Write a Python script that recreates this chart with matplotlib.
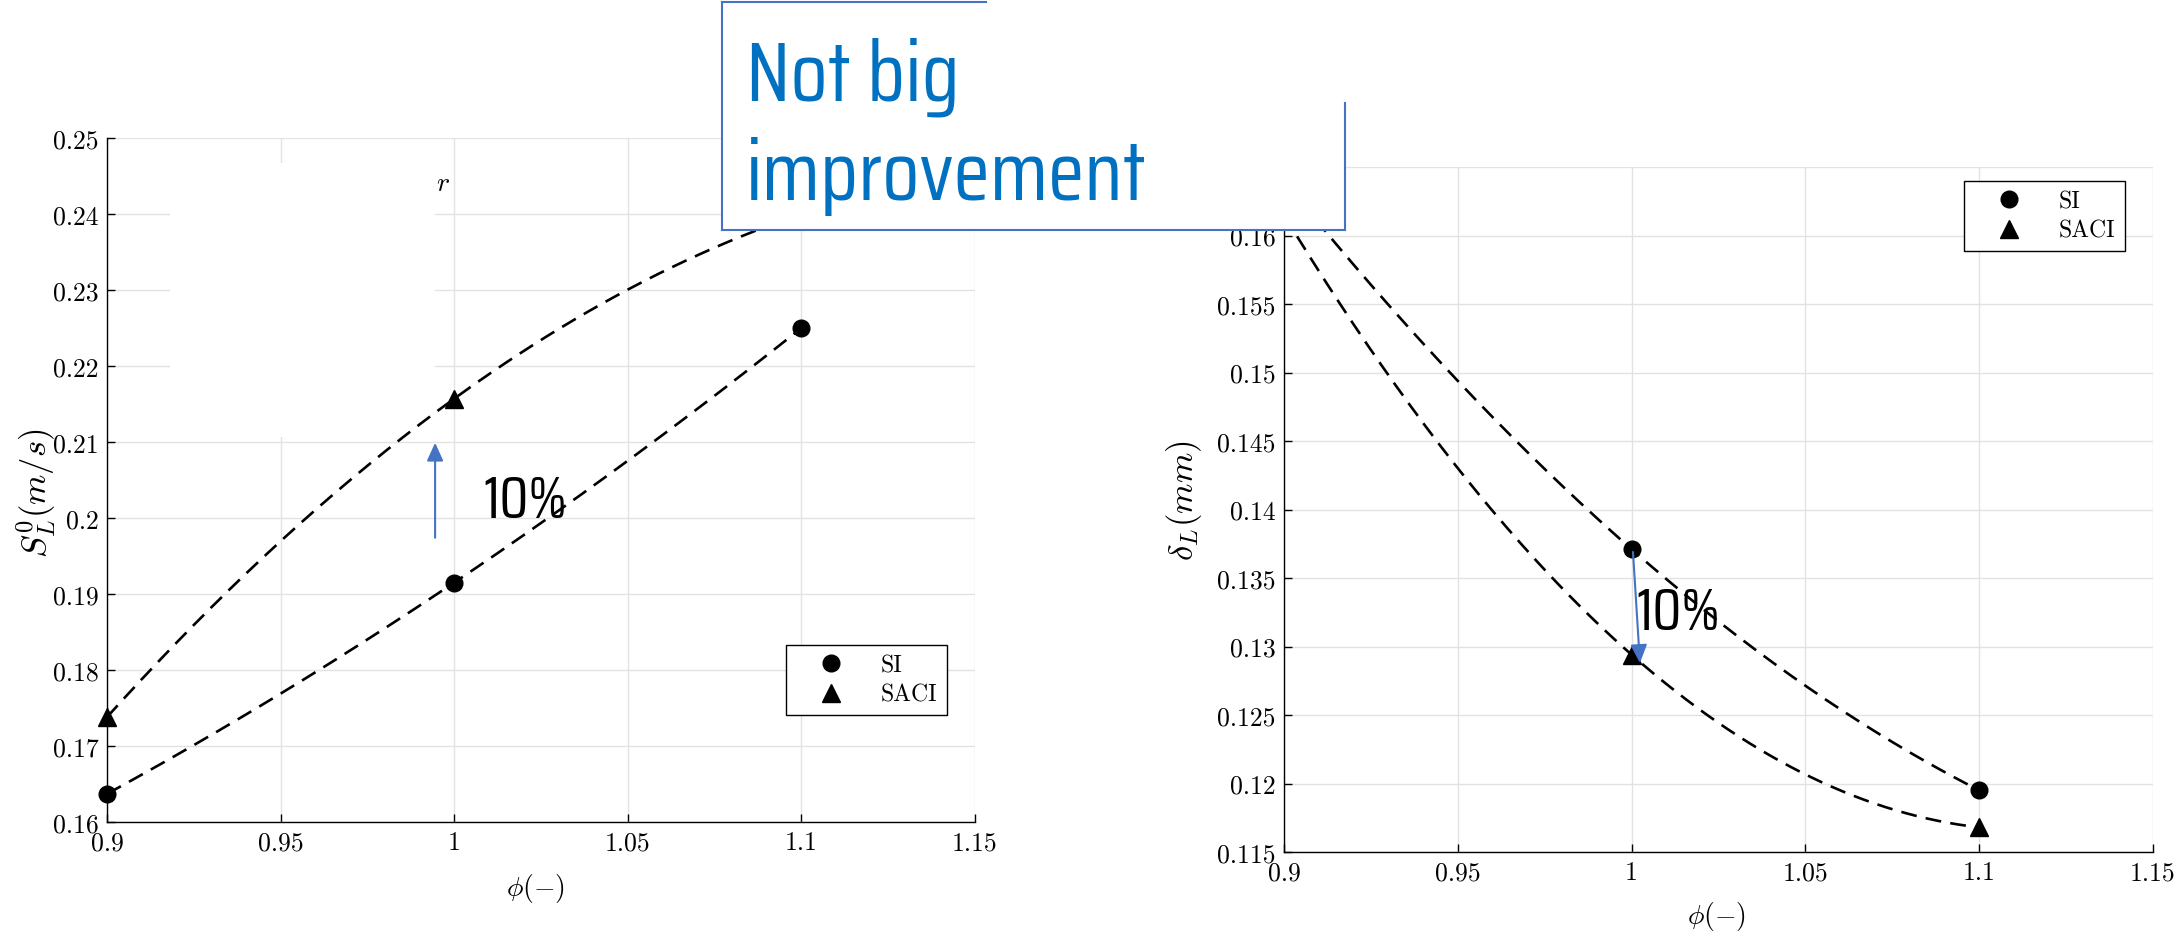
import numpy as np
import matplotlib
matplotlib.use('Agg')
from matplotlib import pyplot as plt
from matplotlib import font_manager as fm
from matplotlib.patches import Rectangle
from matplotlib.lines import Line2D

# equivalence ratio
phi = [0.9, 1.0, 1.1]
# laminar flame speed S_L^0 (m/s)
sl_si = [0.1637, 0.1915, 0.2250]
sl_saci = [0.1738, 0.2157, 0.2400]
# flame thickness delta_L (mm)
dl_si = [0.1640, 0.1371, 0.1195]
dl_saci = [0.1615, 0.1294, 0.1168]

x_ticks = [0.9, 0.95, 1.0, 1.05, 1.1, 1.15]
x_ticklabels = ['0.9', '0.95', '1', '1.05', '1.1', '1.15']
sl_ticks = [0.16, 0.17, 0.18, 0.19, 0.20, 0.21, 0.22, 0.23, 0.24, 0.25]
sl_ticklabels = ['0.16', '0.17', '0.18', '0.19', '0.2', '0.21', '0.22', '0.23', '0.24', '0.25']
dl_ticks = [0.115, 0.12, 0.125, 0.13, 0.135, 0.14, 0.145, 0.15, 0.155, 0.16, 0.165]
dl_ticklabels = ['0.115', '0.12', '0.125', '0.13', '0.135', '0.14', '0.145', '0.15', '0.155', '0.16', '0.165']

plt.rcParams['font.family'] = 'serif'
plt.rcParams['font.serif'] = ['cmr10']
plt.rcParams['mathtext.fontset'] = 'cm'
plt.rcParams['axes.formatter.use_mathtext'] = True

W, H = 2178, 937
BLUE_TXT = '#0070C0'
BLUE = '#4472C4'

fig = plt.figure(figsize=(W / 100, H / 100), dpi=100)
renderer = fig.canvas.get_renderer()


def text_width(prop, s='improvement'):
    t = fig.text(0, 0, s, fontproperties=prop)
    try:
        w = t.get_window_extent(renderer).width
    except Exception:
        w = None
    t.remove()
    return w


def pick_narrow_font():
    # condensed sans face closest to an Arial Narrow width, else Liberation Sans
    best = fm.FontProperties(family='Liberation Sans')
    target = 4.74 * 40 * 100 / 72  # "improvement" in Arial Narrow at 40 pt
    best_d = abs(text_width(fm.FontProperties(family='Liberation Sans', size=40)) - target)
    seen = set()
    for f in fm.fontManager.ttflist:
        nm = f.name.lower()
        fn = f.fname.lower()
        if not ('narrow' in nm or 'condensed' in nm or 'condensed' in str(f.stretch)):
            continue
        if 'mono' in nm or 'mono' in fn or 'serif' in nm or f.style != 'normal':
            continue
        if f.weight not in (400, 'normal', 'regular') or f.fname in seen:
            continue
        seen.add(f.fname)
        w = text_width(fm.FontProperties(fname=f.fname, size=40))
        if w and abs(w - target) < best_d:
            best, best_d = fm.FontProperties(fname=f.fname), abs(w - target)
    return best


NARROW = pick_narrow_font()


def fx(px):
    return px / W


def fy(py):
    return 1 - py / H


def fit_width(txt, target_px):
    w = txt.get_window_extent(renderer).width
    txt.set_fontsize(txt.get_fontsize() * target_px / w)


def style(ax, yticks, yticklabels, ylim):
    ax.set_xlim(0.9, 1.15)
    ax.set_ylim(*ylim)
    ax.set_xticks(x_ticks)
    ax.set_xticklabels(x_ticklabels)
    ax.set_yticks(yticks)
    ax.set_yticklabels(yticklabels)
    ax.spines['top'].set_visible(False)
    ax.spines['right'].set_visible(False)
    for s in ['left', 'bottom']:
        ax.spines[s].set_linewidth(1.0)
    ax.tick_params(direction='in', length=6, width=1, labelsize=18.5, pad=6)
    ax.grid(True, color='#e2e2e2', lw=1.0)
    ax.set_axisbelow(True)


def fit_curve(ax, y):
    coef = np.polyfit(phi, y, 2)
    xs = np.linspace(phi[0], phi[-1], 200)
    ax.plot(xs, np.polyval(coef, xs), color='k', lw=1.9, dashes=(6, 3.5), zorder=2)


def add_legend(ax, px, py):
    leg = ax.legend(loc='upper left', bbox_to_anchor=(fx(px), fy(py)),
                    bbox_transform=fig.transFigure, borderaxespad=0,
                    fontsize=17, fancybox=False, framealpha=1, edgecolor='k',
                    borderpad=0.4, labelspacing=0.3, handlelength=3.0,
                    handletextpad=0.6)
    leg.get_frame().set_linewidth(1.0)
    leg.set_zorder(4)


# ---- left: laminar flame speed
ax1 = fig.add_axes([fx(107), fy(823), 868 / W, 684 / H])
style(ax1, sl_ticks, sl_ticklabels, (0.16, 0.25))
fit_curve(ax1, sl_si)
fit_curve(ax1, sl_saci)
ax1.plot(phi, sl_si, 'o', color='k', ms=12, label='SI', clip_on=False, zorder=3)
ax1.plot(phi, sl_saci, '^', color='k', ms=13, label='SACI', clip_on=False, zorder=3)
ax1.set_xlabel(r'$\phi(-)$', fontsize=20)
ax1.set_ylabel(r'$S_L^0(m/s)$', fontsize=25)
ax1.xaxis.set_label_coords(0.494, -0.072)
ax1.yaxis.set_label_coords(-0.057, 0.482)
add_legend(ax1, 786, 646)

# white patch covering an old text box
ax1.add_patch(Rectangle((0.9181, 0.2107), 0.9945 - 0.9181, 0.2467 - 0.2107,
                        facecolor='white', edgecolor='none', zorder=1))
ax1.text(0.9948, 0.2432, r'$r$', fontsize=20, zorder=1.5)

ax1.annotate('', xy=(0.9945, 0.2099), xytext=(0.9945, 0.1974),
             arrowprops=dict(arrowstyle='-|>,head_length=1.1,head_width=0.5',
                             color=BLUE, lw=1.5, shrinkA=0, shrinkB=0))
pct1 = ax1.text(1.0083, 0.2001, '10%', fontproperties=NARROW, va='baseline')
pct1.set_fontsize(37)

# ---- right: flame thickness
ax2 = fig.add_axes([fx(1284), fy(853), 869 / W, 685 / H])
style(ax2, dl_ticks, dl_ticklabels, (0.115, 0.165))
fit_curve(ax2, dl_si)
fit_curve(ax2, dl_saci)
ax2.plot(phi, dl_si, 'o', color='k', ms=12, label='SI', clip_on=False, zorder=3)
ax2.plot(phi, dl_saci, '^', color='k', ms=13, label='SACI', clip_on=False, zorder=3)
ax2.set_xlabel(r'$\phi(-)$', fontsize=20)
ax2.set_ylabel(r'$\delta_L(mm)$', fontsize=25)
ax2.xaxis.set_label_coords(0.498, -0.069)
ax2.yaxis.set_label_coords(-0.092, 0.515)
add_legend(ax2, 1964, 182)

ax2.annotate('', xy=(1.0024, 0.1288), xytext=(1.0004, 0.1369),
             arrowprops=dict(arrowstyle='-|>,head_length=1.1,head_width=0.5',
                             color=BLUE, lw=1.5, shrinkA=0, shrinkB=0))
pct2 = ax2.text(1.0013, 0.1313, '10%', fontproperties=NARROW, va='baseline')
pct2.set_fontsize(37)

# ---- "Not big improvement" call-out box on top of both axes
fig.patches.append(Rectangle((fx(722), fy(231)), (1345 - 722) / W, (231 - 3) / H,
                             transform=fig.transFigure, facecolor='white',
                             edgecolor='none', zorder=5))
for (x0, y0), (x1, y1) in [((722, 3), (722, 231)), ((722, 231), (1345, 231)),
                           ((722, 3), (986, 3)), ((1345, 104), (1345, 231))]:
    fig.add_artist(Line2D([fx(x0), fx(x1)], [fy(y0), fy(y1)], color=BLUE,
                          lw=1.5, transform=fig.transFigure, zorder=6))
t1 = fig.text(fx(746), fy(101), 'Not big', color=BLUE_TXT,
              fontproperties=NARROW, va='baseline', zorder=7)
t2 = fig.text(fx(746), fy(200), 'improvement', color=BLUE_TXT,
              fontproperties=NARROW, va='baseline', zorder=7)
t1.set_fontsize(61)
t2.set_fontsize(61)

# scale the sans texts so their widths match the picture
fit_width(t2, 401)
t1.set_fontsize(t2.get_fontsize())
fit_width(pct1, 84)
fit_width(pct2, 84)

fig.savefig('out.png', dpi=100)
